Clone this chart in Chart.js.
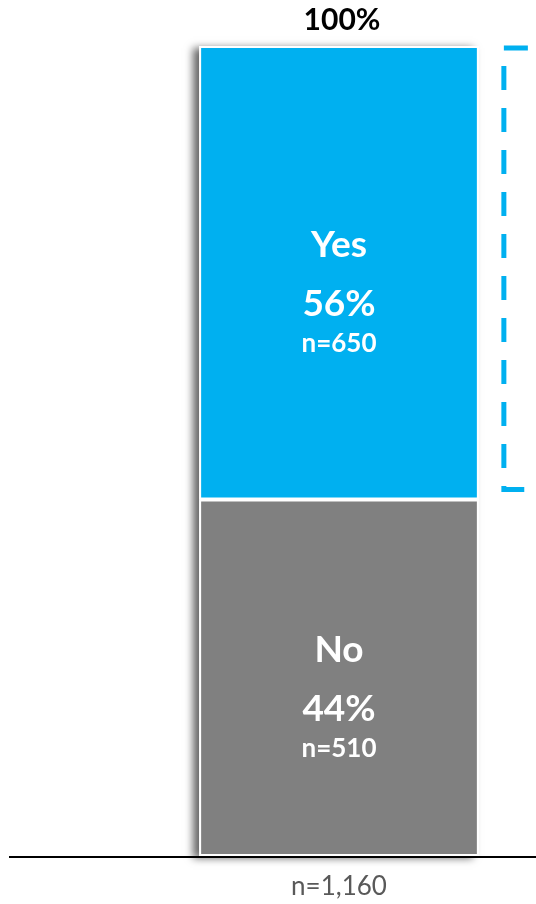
<!DOCTYPE html>
<html>
<head>
<meta charset="utf-8">
<script src="https://cdn.jsdelivr.net/npm/chart.js@4.4.1/dist/chart.umd.min.js"></script>
<style>
  html, body { margin: 0; padding: 0; background: #fff; }
  #wrap { width: 536px; height: 904px; position: relative; }
</style>
</head>
<body>
<div id="wrap"><canvas id="chart"></canvas></div>
<script>
// data (bottom segment first)
const categories = ['n=1,160'];
const answers = ['No', 'Yes'];
const percents = [44, 56];
const counts = [510, 650];
const totalLabel = '100%';
const colors = ['#808080', '#00B0F0'];

const fontFam = "Lato, 'Open Sans', sans-serif";

function barBounds(chart) {
  const els = chart.data.datasets.map(function(d, i) { return chart.getDatasetMeta(i).data[0]; });
  const x = els[0].x, w = els[0].width;
  const top = Math.min.apply(null, els.map(function(e) { return Math.min(e.y, e.base); }));
  const bottom = Math.max.apply(null, els.map(function(e) { return Math.max(e.y, e.base); }));
  return { x: x, w: w, top: top, bottom: bottom };
}

// soft shadow on the left of the bar
const shadowPlugin = {
  id: 'shadow',
  beforeDatasetsDraw(chart) {
    const b = barBounds(chart);
    const ctx = chart.ctx;
    ctx.save();
    ctx.shadowColor = 'rgba(0,0,0,0.6)';
    ctx.shadowBlur = 8;
    ctx.shadowOffsetX = -6;
    ctx.shadowOffsetY = 2;
    ctx.fillStyle = '#fff';
    ctx.fillRect(b.x - b.w / 2, b.top, b.w, b.bottom - b.top);
    ctx.restore();
  }
};

// labels, axis line and the dashed bracket
const labelPlugin = {
  id: 'labels',
  afterDatasetsDraw(chart) {
    const ctx = chart.ctx;
    const area = chart.chartArea;
    const b = barBounds(chart);
    ctx.save();
    ctx.textAlign = 'center';
    ctx.textBaseline = 'middle';
    ctx.fillStyle = '#fff';
    chart.data.datasets.forEach(function(ds, i) {
      const el = chart.getDatasetMeta(i).data[0];
      const cy = (el.y + el.base) / 2;
      ctx.font = "bold 37px " + fontFam;
      ctx.fillText(answers[i], el.x, cy - 28);
      ctx.fillText(percents[i] + '%', el.x, cy + 31);
      ctx.font = "bold 26px " + fontFam;
      ctx.fillText('n=' + counts[i], el.x, cy + 71);
    });

    // total on top
    ctx.fillStyle = '#000';
    ctx.font = "bold 30px " + fontFam;
    ctx.fillText(totalLabel, b.x + 3, b.top - 26);

    // axis line
    ctx.strokeStyle = '#000';
    ctx.lineWidth = 2;
    ctx.beginPath();
    ctx.moveTo(9, area.bottom + 1);
    ctx.lineTo(area.right, area.bottom + 1);
    ctx.stroke();

    // dashed bracket next to the Yes segment
    const ys = chart.scales.y;
    const bx = b.x + b.w / 2 + 25;
    const by1 = ys.getPixelForValue(100) + 2;
    const by2 = ys.getPixelForValue(percents[0]) - 10;
    ctx.strokeStyle = colors[1];
    ctx.lineWidth = 5;
    ctx.setLineDash([24, 18]);
    ctx.beginPath();
    ctx.moveTo(bx + 24, by1);
    ctx.lineTo(bx, by1);
    ctx.lineTo(bx, by2);
    ctx.lineTo(bx + 40, by2);
    ctx.stroke();
    ctx.restore();
  }
};

const ctx = document.getElementById('chart').getContext('2d');
new Chart(ctx, {
  type: 'bar',
  data: {
    labels: categories,
    datasets: answers.map(function(a, i) {
      return {
        label: a,
        data: [percents[i]],
        backgroundColor: colors[i],
        borderColor: '#fff',
        borderWidth: 2,
        borderSkipped: false,
        barPercentage: 0.71,
        categoryPercentage: 1
      };
    })
  },
  options: {
    responsive: true,
    maintainAspectRatio: false,
    animation: false,
    layout: { padding: { left: 142, right: 0, top: 46, bottom: 0 } },
    plugins: {
      legend: { display: false },
      tooltip: { enabled: false }
    },
    scales: {
      x: {
        stacked: true,
        grid: { display: false, drawTicks: false },
        border: { display: false },
        afterFit: function(scale) { scale.height = 48; },
        ticks: {
          color: '#595959',
          padding: 15,
          font: { family: fontFam, size: 26 }
        }
      },
      y: {
        stacked: true,
        display: false,
        min: 0,
        max: 100
      }
    }
  },
  plugins: [shadowPlugin, labelPlugin]
});
</script>
</body>
</html>
